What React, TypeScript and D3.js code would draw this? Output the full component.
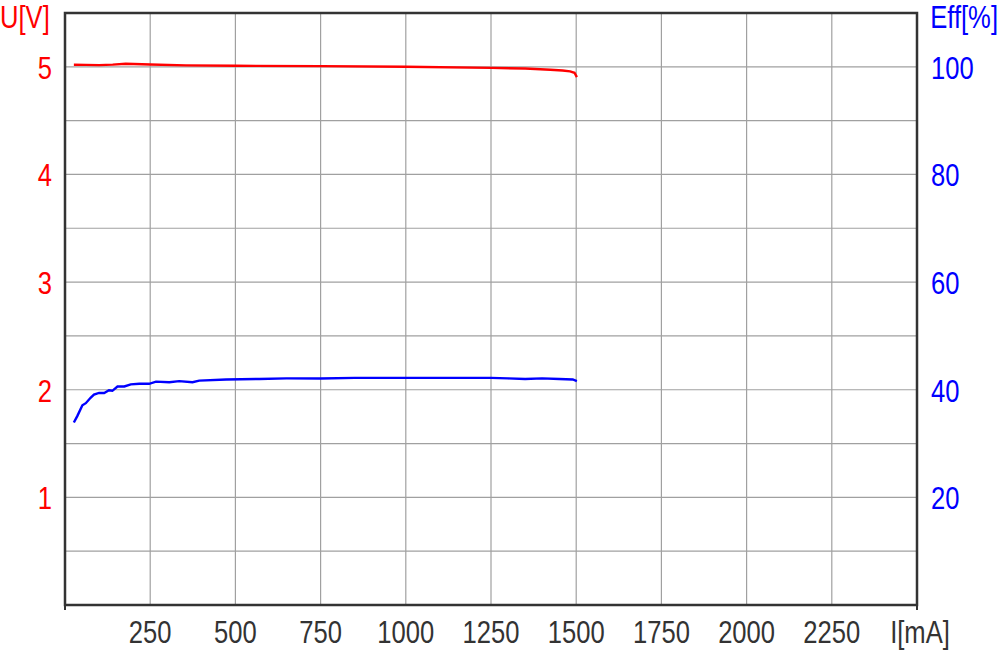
import * as React from "react";
import * as d3 from "d3";

// output voltage vs load current
const voltCurrent = [26, 60, 100, 140, 178, 250, 355, 500, 750, 1000, 1250, 1350, 1424, 1460, 1482, 1495, 1502];
const voltValues = [5.019, 5.018, 5.016, 5.02, 5.028, 5.022, 5.013, 5.01, 5.006, 5.0, 4.99, 4.984, 4.973, 4.966, 4.958, 4.945, 4.905];

// efficiency vs load current
const effCurrent = [26, 36, 51, 61, 75, 85, 100, 115, 129, 139, 154, 174, 193, 218, 247, 267, 306, 335, 374, 394, 473, 570,
  650, 750, 850, 950, 1050, 1150, 1250, 1300, 1350, 1400, 1450, 1490, 1502];
const effValues = [33.9, 35.1, 37.1, 37.5, 38.5, 39.1, 39.4, 39.4, 39.9, 39.8, 40.6, 40.6, 41.0, 41.1, 41.1, 41.5, 41.4, 41.6, 41.4, 41.7, 41.9, 42.0,
  42.1, 42.1, 42.2, 42.2, 42.2, 42.2, 42.2, 42.1, 42.0, 42.1, 42.0, 41.9, 41.6];

const xTicks = [250, 500, 750, 1000, 1250, 1500, 1750, 2000, 2250];
const voltTicks = [1, 2, 3, 4, 5];
const effTicks = [20, 40, 60, 80, 100];

const left = 65, right = 917, top = 13, bottom = 605;
const font = "'Liberation Sans', Arial, sans-serif";

const Label = (p: { x: number; y: number; text: string; fill: string; anchor: string }) =>
  <text transform={`translate(${p.x},${p.y}) scale(0.8,1)`} textAnchor={p.anchor}
    fill={p.fill} fontSize={32} fontFamily={font}>{p.text}</text>;

export default function App() {
  const x = d3.scaleLinear().domain([0, 2500]).range([left, right]);
  const yV = d3.scaleLinear().domain([0, 5.5]).range([bottom, top]);
  const yE = d3.scaleLinear().domain([0, 110]).range([bottom, top]);

  const voltLine = d3.line<number>().x((d, i) => x(voltCurrent[i])).y(d => yV(d));
  const effLine = d3.line<number>().x((d, i) => x(effCurrent[i])).y(d => yE(d));

  const hGrid = d3.range(0.5, 5.5, 0.5);
  const vGrid = d3.range(250, 2500, 250);

  return <svg width={1000} height={650} style={{ position: "absolute", left: 0, top: 0 }}>
    <rect x={0} y={0} width={1000} height={650} fill="#fff" />
    {hGrid.map(v => <line key={"h" + v} x1={left} x2={right} y1={yV(v)} y2={yV(v)} stroke="#a0a0a0" strokeWidth={1.2} />)}
    {vGrid.map(v => <line key={"v" + v} x1={x(v)} x2={x(v)} y1={top} y2={bottom} stroke="#a0a0a0" strokeWidth={1.2} />)}
    <rect x={left} y={top} width={right - left} height={bottom - top} fill="none" stroke="#333" strokeWidth={2.5} />
    <line x1={left} x2={left} y1={bottom} y2={bottom + 5} stroke="#333" strokeWidth={2} />
    <line x1={right} x2={right} y1={bottom} y2={bottom + 5} stroke="#333" strokeWidth={2} />
    <path d={voltLine(voltValues) || ""} fill="none" stroke="#ff0000" strokeWidth={2.4} />
    <path d={effLine(effValues) || ""} fill="none" stroke="#0000ff" strokeWidth={2.4} />
    {voltTicks.map(v => <Label key={"vt" + v} x={52} y={yV(v) + 12} text={String(v)} fill="#ff0000" anchor="end" />)}
    {effTicks.map(v => <Label key={"et" + v} x={931} y={yE(v) + 12} text={String(v)} fill="#0000ff" anchor="start" />)}
    {xTicks.map(v => <Label key={"xt" + v} x={x(v)} y={643} text={String(v)} fill="#333" anchor="middle" />)}
    <Label x={920} y={643} text="I[mA]" fill="#333" anchor="middle" />
    <Label x={0} y={28} text="U[V]" fill="#ff0000" anchor="start" />
    <Label x={998} y={28} text="Eff[%]" fill="#0000ff" anchor="end" />
  </svg>;
}
